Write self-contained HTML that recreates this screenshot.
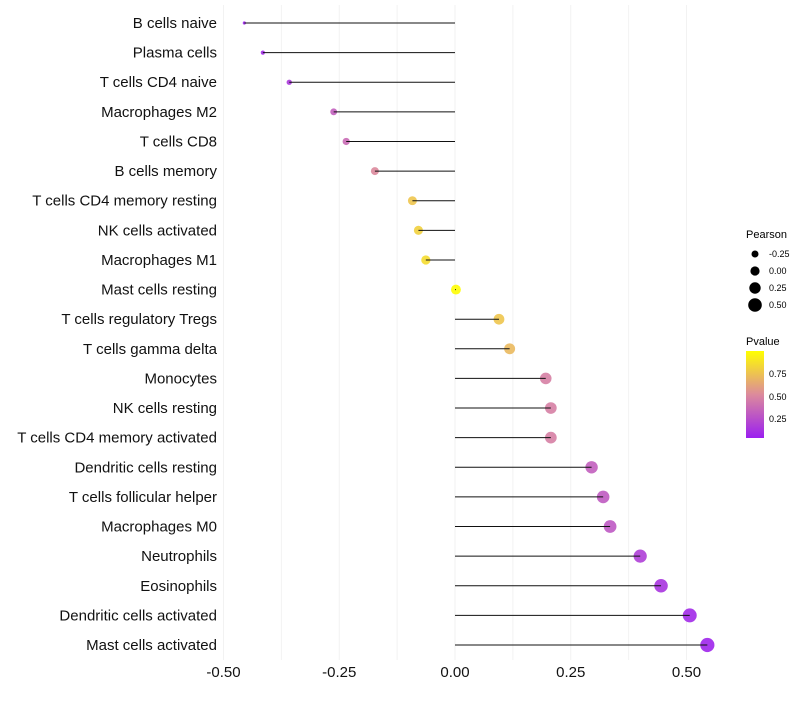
<!DOCTYPE html>
<html><head><meta charset="utf-8"><style>
body{margin:0;background:#fff;font-family:"Liberation Sans",sans-serif}
</style></head><body>
<svg id="c" width="800" height="700" xmlns="http://www.w3.org/2000/svg">
<defs><linearGradient id="pg" x1="0" y1="1" x2="0" y2="0">
<stop offset="0" stop-color="#9b1ff0"/><stop offset="0.5" stop-color="#dc8a9c"/><stop offset="1" stop-color="#ffff00"/></linearGradient></defs>
<g id="grid"></g><g id="marks"></g><g id="labels"></g><g id="xt"></g>
<g font-size="10">
<text x="746" y="238" font-size="11">Pearson</text>
<g id="sizeLeg"></g>
<text x="746" y="345" font-size="11">Pvalue</text>
<rect x="746" y="351" width="18" height="87" fill="url(#pg)"/>
<text x="769" y="377" font-size="9">0.75</text>
<text x="769" y="400" font-size="9">0.50</text>
<text x="769" y="422" font-size="9">0.25</text>
</g>
</svg>
<script>
const cats=["B cells naive","Plasma cells","T cells CD4 naive","Macrophages M2","T cells CD8","B cells memory","T cells CD4 memory resting","NK cells activated","Macrophages M1","Mast cells resting","T cells regulatory  Tregs ","T cells gamma delta","Monocytes","NK cells resting","T cells CD4 memory activated","Dendritic cells resting","T cells follicular helper","Macrophages M0","Neutrophils","Eosinophils","Dendritic cells activated","Mast cells activated"];
const pearson=[-0.455,-0.415,-0.358,-0.262,-0.235,-0.173,-0.092,-0.079,-0.063,0.002,0.095,0.118,0.196,0.207,0.207,0.295,0.32,0.335,0.4,0.445,0.507,0.545];
const pvals=[0.02,0.05,0.12,0.3,0.35,0.5,0.75,0.8,0.85,0.99,0.75,0.7,0.45,0.45,0.45,0.3,0.28,0.27,0.15,0.1,0.05,0.03];
const xTicks=[-0.5,-0.25,0,0.25,0.5];
const xTickLabels=["-0.50","-0.25","0.00","0.25","0.50"];
const sizeLegend=[-0.25,0,0.25,0.5];
const sizeLegendLabels=["-0.25","0.00","0.25","0.50"];
const NS="http://www.w3.org/2000/svg";
const x=v=>455+v*463;
const y=i=>23+i*(645-23)/21;
const r=v=>Math.sqrt(Math.max(1,2.5+(v+0.455)*48));
function col(p){const a=[155,31,240],m=[220,138,156],b=[255,255,0];let s,e,t;
 if(p<0.5){s=a;e=m;t=p/0.5}else{s=m;e=b;t=(p-0.5)/0.5}
 return `rgb(${s.map((c,k)=>Math.round(c+(e[k]-c)*t)).join(",")})`;}
function mk(tag,at,par){const el=document.createElementNS(NS,tag);for(const k in at)el.setAttribute(k,at[k]);document.getElementById(par).appendChild(el);return el;}
for(let v=-0.5;v<=0.6;v+=0.125){const g=mk("line",{x1:x(v),x2:x(v),y1:5,y2:660,stroke:"#f2f2f2","stroke-width":1},"grid");

}
cats.forEach((c,i)=>{
 const d=mk("circle",{cx:x(pearson[i]),cy:y(i),r:r(pearson[i]),fill:col(pvals[i]),"fill-opacity":0.9},"marks");
 
 
 const l=mk("line",{x1:x(0),x2:x(pearson[i]),y1:y(i),y2:y(i),stroke:"#111","stroke-width":1},"marks");
 
 
 const t=mk("text",{x:217,y:y(i)+5,"text-anchor":"end","font-size":15,fill:"#111"},"labels");
 
 
 t.textContent=c;
});
xTicks.forEach((v,i)=>{const t=mk("text",{x:x(v),y:677,"text-anchor":"middle","font-size":15,fill:"#111"},"xt");
 
 
 t.textContent=xTickLabels[i];});
sizeLegend.forEach((v,i)=>{const cy=254+i*17;
 const c=mk("circle",{cx:755,cy:cy,r:3.5+i*1.1,fill:"#000"},"sizeLeg");
 
 
 const t=mk("text",{x:769,y:cy+3,"font-size":9},"sizeLeg");
 
 
 t.textContent=sizeLegendLabels[i];});
</script>
</body></html>
